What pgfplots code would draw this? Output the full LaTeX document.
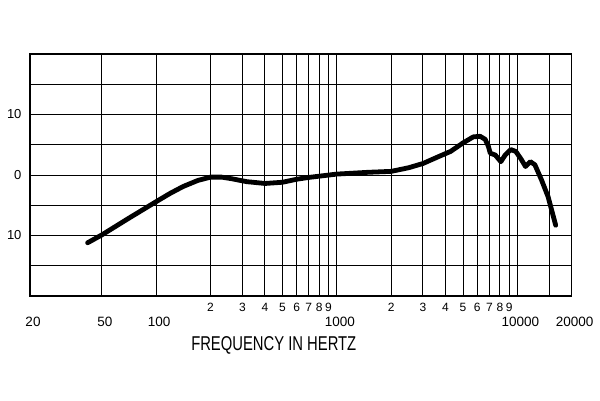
\documentclass[border=0pt]{standalone}
\usepackage{fontspec}
\setmainfont{Liberation Sans}
\usepackage{pgfplots}
\pgfplotsset{compat=1.18}
\begin{document}
\begin{tikzpicture}
\useasboundingbox (-30pt,-104pt) rectangle (570pt,296pt);
\begin{axis}[
  at={(0pt,0pt)}, anchor=south west,
  scale only axis, width=541.7pt, height=242pt,
  xmode=log, xmin=20, xmax=20000, ymin=-20, ymax=20,
  xtick={200,300,400,500,600,700,800,900,2000,3000,4000,5000,6000,7000,8000,9000},
  xticklabels={2,3,4,5,6,7,8,9,2,3,4,5,6,7,8,9},
  extra x ticks={20,50,100,1000,10000,15000,20000},
  extra x tick labels={20,50,100,1000,10000,,20000},
  extra x tick style={grid=major, xticklabel style={xshift=3pt, yshift=-14pt, font=\fontsize{13.5}{15}\selectfont}},
  xticklabel style={yshift=-4pt, font=\fontsize{12}{14}\selectfont},
  xmajorgrids, ymajorgrids,
  ytick={-15,-10,-5,0,5,10,15},
  yticklabels={,10,,0,,10,},
  yticklabel style={xshift=-5pt, font=\fontsize{13}{15}\selectfont},
  major tick length=0pt, minor tick length=0pt,
  grid style={black, line width=1pt},
  axis line style={black, line width=1.2pt},
  /pgf/number format/assume math mode=true,
  clip=false,
]
\addplot[black, line width=4.8pt, line cap=round, line join=round] coordinates {
(41.7,-11.2) (50,-9.9) (70,-7.2) (100,-4.4) (120,-3.0) (141,-1.9) (170,-0.9) (200,-0.35)
(230,-0.35) (260,-0.6) (317,-1.1) (400,-1.4) (500,-1.2) (600,-0.7) (700,-0.4)
(850,-0.1) (1000,0.15) (1500,0.45) (2000,0.6) (2500,1.2) (3000,1.9) (3700,3.1)
(4270,3.9) (5000,5.3) (5700,6.3) (6220,6.4) (6630,5.9) (6900,4.8) (7080,3.6)
(7550,3.3) (8100,2.2) (8560,3.3) (9200,4.2) (9800,3.9) (10500,2.6) (11100,1.4)
(11800,2.2) (12500,1.7) (13600,-0.8) (14800,-3.6) (16300,-8.3)
};
\node[font=\fontsize{20}{22}\selectfont] at (rel axis cs:0.45,0) [yshift=-49pt] {\scalebox{0.74}[1]{FREQUENCY IN HERTZ}};
\end{axis}
\end{tikzpicture}
\end{document}
